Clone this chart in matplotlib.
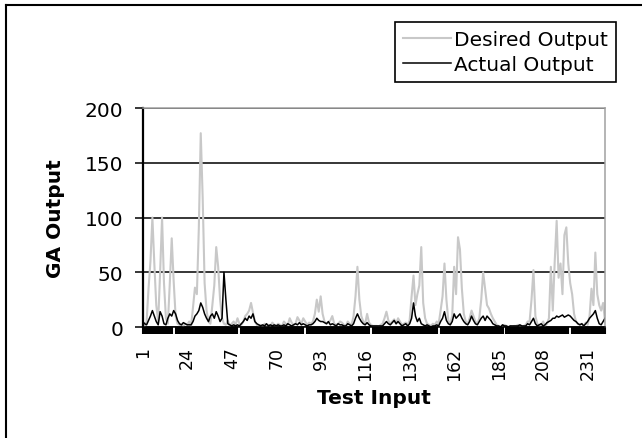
import matplotlib
matplotlib.use("Agg")
import matplotlib.pyplot as plt
from matplotlib.lines import Line2D

# values, test inputs 1..240
desired_output = [
    2, 1, 5, 35, 60, 100, 58, 20, 5, 50, 100, 40, 8, 3, 40, 81, 42, 10, 3, 2,
    2, 1, 3, 2, 5, 1, 18, 36, 30, 90, 177, 118, 40, 15, 5, 3, 20, 38, 73, 55,
    25, 8, 3, 2, 6, 1, 3, 5, 2, 8, 3, 2, 5, 10, 12, 15, 22, 13, 5, 2,
    1, 2, 0, 3, 1, 2, 1, 4, 2, 1, 3, 2, 1, 5, 3, 2, 8, 4, 2, 3,
    9, 6, 3, 8, 5, 2, 4, 3, 5, 12, 25, 14, 28, 12, 5, 3, 4, 6, 10, 3,
    2, 3, 5, 4, 2, 1, 5, 3, 2, 10, 28, 55, 25, 10, 5, 3, 12, 4, 2, 1,
    1, 1, 0, 2, 3, 8, 14, 6, 3, 5, 7, 3, 8, 5, 2, 3, 4, 2, 6, 28,
    47, 20, 30, 38, 73, 22, 8, 3, 2, 1, 3, 2, 5, 3, 15, 28, 58, 25, 6, 3,
    10, 55, 30, 82, 71, 35, 12, 5, 3, 8, 15, 10, 5, 3, 8, 25, 50, 35, 20, 17,
    12, 8, 5, 2, 1, 0, 1, 2, 1, 0, 1, 0, 1, 1, 2, 1, 0, 1, 2, 5,
    5, 25, 52, 10, 3, 1, 2, 5, 1, 3, 8, 55, 15, 60, 97, 45, 58, 30, 84, 91,
    58, 40, 30, 12, 5, 3, 2, 3, 1, 4, 2, 10, 35, 20, 68, 30, 20, 15, 22, 5,
]
actual_output = [
    5, 3, 2, 6, 10, 15, 10, 5, 2, 14, 10, 3, 2, 8, 12, 10, 15, 12, 6, 3,
    2, 4, 3, 2, 2, 2, 5, 10, 12, 15, 22, 18, 12, 8, 5, 10, 12, 8, 14, 10,
    5, 8, 50, 25, 3, 2, 1, 2, 1, 2, 1, 3, 5, 8, 6, 10, 8, 12, 5, 3,
    2, 1, 2, 1, 3, 1, 2, 1, 2, 1, 2, 1, 1, 2, 1, 3, 2, 1, 2, 3,
    2, 4, 2, 3, 2, 1, 2, 2, 3, 5, 8, 6, 5, 5, 4, 3, 5, 2, 3, 2,
    1, 3, 2, 2, 1, 1, 3, 2, 1, 3, 8, 12, 8, 5, 3, 2, 4, 2, 1, 1,
    1, 1, 1, 1, 1, 3, 5, 3, 2, 4, 6, 3, 5, 3, 1, 2, 3, 1, 3, 8,
    22, 10, 5, 8, 3, 2, 1, 2, 1, 0, 1, 1, 2, 1, 5, 8, 14, 6, 3, 2,
    5, 12, 8, 10, 12, 8, 5, 3, 2, 5, 10, 6, 3, 2, 5, 8, 10, 6, 10, 8,
    6, 3, 2, 1, 1, 0, 2, 1, 1, 0, 1, 1, 1, 1, 1, 2, 1, 1, 1, 3,
    2, 5, 8, 3, 1, 2, 3, 1, 2, 4, 5, 6, 8, 8, 10, 9, 10, 11, 9, 10,
    11, 10, 8, 6, 5, 3, 2, 3, 1, 3, 5, 8, 10, 12, 15, 8, 3, 2, 5, 8,
]
test_input = list(range(1, len(desired_output) + 1))
x_labels = list(range(1, 232, 23))
y_ticks = [0, 50, 100, 150, 200]
band_gaps = [17, 51, 85, 119, 154, 188, 222]

plt.rcParams["font.family"] = "DejaVu Sans"

fig = plt.figure(figsize=(6.42, 4.39), dpi=100)
ax = fig.add_axes([0.2223, 0.2528, 0.7201, 0.4989])

ax.plot(test_input, desired_output, color="#c8c8c8", lw=1.5, label="Desired Output")
ax.plot(test_input, actual_output, color="black", lw=1.1, label="Actual Output")

ax.set_xlim(1, 240)
ax.set_ylim(0, 200)
ax.set_yticks(y_ticks)
ax.yaxis.grid(True, color="black", lw=1.1)
ax.set_axisbelow(True)

ax.set_xticks(x_labels)
ax.set_xticklabels([str(v) for v in x_labels], rotation=90)
minor = [c for c in test_input if c not in x_labels and c not in band_gaps]
ax.set_xticks(minor, minor=True)
ax.tick_params(axis="x", which="both", direction="out", length=5, width=1.5,
               color="black", labelsize=12.5, pad=9)
ax.tick_params(axis="y", direction="out", length=6, width=1.1, labelsize=14.5, pad=8)

for side in ("top", "right"):
    ax.spines[side].set_color("#a0a0a0")
    ax.spines[side].set_linewidth(1.1)
ax.spines["left"].set_linewidth(1.6)
ax.spines["bottom"].set_linewidth(1.1)

ax.set_xlabel("Test Input", fontsize=14.5, fontweight="bold", labelpad=6)
ax.set_ylabel("GA Output", fontsize=14.5, fontweight="bold", labelpad=14)

leg = ax.legend(loc="upper left", bbox_to_anchor=(0.6148, 0.9483),
                bbox_transform=fig.transFigure, borderaxespad=0, fontsize=14.5,
                frameon=True, fancybox=False, framealpha=1, edgecolor="black",
                handlelength=2.4, handletextpad=0.15, borderpad=0.4, labelspacing=0.3)
leg.get_frame().set_linewidth(1.2)

# outer chart border (only top and left edges visible)
fig.add_artist(Line2D([6 / 642, 1], [1 - 6 / 439, 1 - 6 / 439],
                      transform=fig.transFigure, color="black", lw=1.5))
fig.add_artist(Line2D([6 / 642, 6 / 642], [0, 1 - 6 / 439],
                      transform=fig.transFigure, color="black", lw=1.5))

fig.savefig("out.png", dpi=100)
